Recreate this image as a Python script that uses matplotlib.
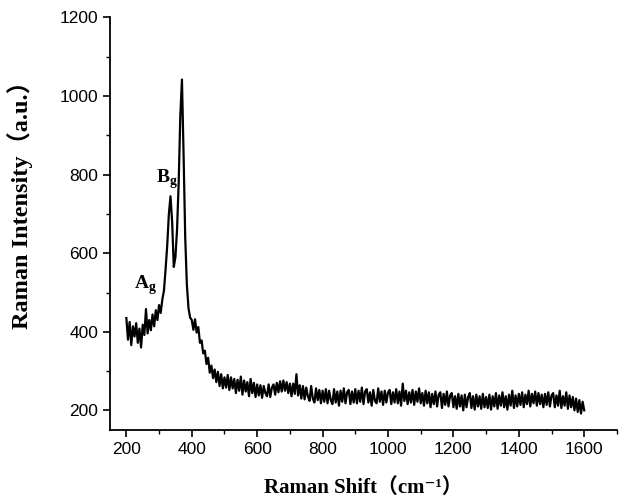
import numpy as np
import matplotlib
matplotlib.use("Agg")
import matplotlib.pyplot as plt
from matplotlib.ticker import MultipleLocator

# ====== 数据 (step 5 cm-1) ======
shift_start, shift_stop, shift_step = 200, 1600, 5

intensity_200_300 = [435, 380, 425, 366, 414, 388, 422, 372, 408, 360,
                     418, 392, 458, 396, 430, 404, 444, 414, 455, 430,
                     468]
intensity_305_500 = [448, 482, 505, 560, 620, 700, 745, 680, 565, 590,
                     660, 780, 950, 1042, 850, 640, 520, 460, 436, 430,
                     405, 432, 398, 412, 372, 378, 345, 352, 318, 334,
                     296, 314, 282, 304, 272, 298, 262, 292, 256, 284]
intensity_505_1000 = [258, 290, 252, 284, 256, 280, 244, 278, 250, 286,
                      240, 276, 248, 272, 236, 280, 244, 270, 234, 266,
                      238, 264, 232, 262, 244, 236, 266, 234, 258, 266,
                      240, 270, 246, 274, 248, 276, 250, 272, 244, 268,
                      236, 268, 242, 292, 238, 264, 230, 262, 228, 258,
                      236, 224, 262, 230, 220, 256, 226, 252, 218, 250,
                      222, 254, 218, 250, 226, 216, 254, 220, 248, 212,
                      250, 222, 256, 218, 246, 252, 216, 248, 220, 254,
                      218, 250, 222, 258, 216, 248, 254, 220, 246, 212,
                      252, 224, 218, 256, 222, 248, 214, 250, 220, 246]
intensity_1005_1600 = [252, 216, 246, 220, 254, 218, 248, 212, 268, 224,
                       250, 216, 246, 220, 252, 214, 248, 222, 256, 218,
                       244, 212, 250, 218, 246, 208, 242, 216, 248, 210,
                       240, 246, 206, 242, 214, 248, 210, 238, 244, 208,
                       236, 204, 242, 210, 238, 200, 240, 208, 234, 244,
                       206, 236, 202, 240, 210, 236, 204, 242, 208, 234,
                       206, 240, 202, 236, 210, 244, 204, 238, 212, 246,
                       208, 236, 202, 240, 212, 250, 206, 238, 210, 242,
                       214, 246, 208, 240, 216, 250, 210, 242, 218, 248,
                       212, 244, 216, 240, 208, 242, 214, 246, 210, 238,
                       244, 208, 238, 212, 250, 206, 236, 212, 246, 204,
                       238, 208, 234, 200, 230, 196, 226, 192, 222, 200]

raman_shift = np.arange(shift_start, shift_stop + shift_step, shift_step)
intensity = np.array(intensity_200_300 + intensity_305_500
                     + intensity_505_1000 + intensity_1005_1600)

peak_labels = [r"$\mathbf{A}_{\mathbf{g}}$", r"$\mathbf{B}_{\mathbf{g}}$"]
peak_label_pos = [(224, 519), (291, 789)]

# ====== 风格 ======
plt.rcParams["font.family"] = ["Liberation Sans", "DejaVu Sans"]
plt.rcParams["mathtext.fontset"] = "custom"
plt.rcParams["mathtext.rm"] = "Liberation Serif"
plt.rcParams["mathtext.bf"] = "Liberation Serif:bold"
LABEL_FONT = ["Liberation Serif", "Noto Sans CJK SC", "DejaVu Serif"]

fig = plt.figure(figsize=(6.19, 5.04), dpi=100)
ax = fig.add_axes([0.1777, 0.1468, 0.8190, 0.8185])

ax.plot(raman_shift, intensity, color="black", linewidth=1.6)

for txt, (px, py) in zip(peak_labels, peak_label_pos):
    ax.text(px, py, txt, fontsize=14, ha="left", va="center")

ax.set_xlim(150, 1700)
ax.set_ylim(150, 1200)
ax.xaxis.set_minor_locator(MultipleLocator(100))
ax.yaxis.set_minor_locator(MultipleLocator(100))
ax.set_xticks(np.arange(200, 1601, 200))
ax.set_yticks(np.arange(200, 1201, 200))

ax.spines["top"].set_visible(False)
ax.spines["right"].set_visible(False)
for s in ("left", "bottom"):
    ax.spines[s].set_linewidth(1.3)

ax.tick_params(which="major", direction="out", length=5, width=1.2, labelsize=12.5)
ax.tick_params(which="minor", direction="out", length=3, width=1.0)

ax.set_xlabel("Raman Shift（cm⁻¹）", family=LABEL_FONT, fontweight="bold",
              fontsize=15, labelpad=15)
ax.set_ylabel("Raman Intensity（a.u.）", family=LABEL_FONT, fontweight="bold",
              fontsize=17.5)
ax.yaxis.set_label_coords(-0.152, 0.56)

fig.savefig("out.png", dpi=100)
